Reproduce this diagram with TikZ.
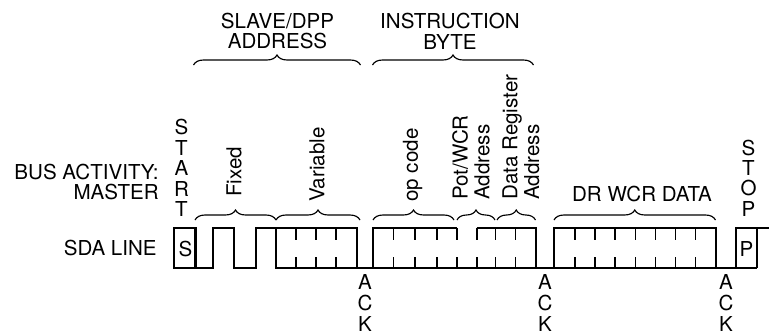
\documentclass[tikz,border=0pt]{standalone}
\usepackage{fontspec}
\setmainfont{TeX Gyre Heros}
\usetikzlibrary{decorations.pathreplacing}

\begin{document}
\begin{tikzpicture}[
  x=0.02cm, y=-0.02cm,
  every node/.style={font=\fontsize{11.7}{11.8}\selectfont, inner sep=0pt},
  wave/.style={
    line width=1.15pt,
    line join=miter
  },
  bittick/.style={
    line width=0.65pt
  },
  grouping/.style={
    decorate,
    decoration={brace, amplitude=0.2cm},
    line width=0.65pt
  },
  fieldname/.style={
    rotate=90,
    anchor=west,
    align=left,
    font=\fontsize{11.7}{12.4}\selectfont
  },
  stack/.style={
    align=center,
    font=\fontsize{11.7}{11.6}\selectfont
  }
]
\useasboundingbox (0,0) rectangle (769,335);

% Row titles
\node[align=right, anchor=east] (busact) at (159,182) {BUS ACTIVITY:\\MASTER};
\node[anchor=east] (sdaline) at (157,248) {SDA LINE};

% Byte headings over the top braces
\node[align=center] (slaveaddr) at (277.5,31) {SLAVE/DPP\\ADDRESS};
\node[align=center] (instrbyte) at (450,31) {INSTRUCTION\\BYTE};
\draw[grouping] (193.5,65) -- (360.5,65);
\draw[grouping] (372.5,65) -- (533.5,65);

% Conditions set by the master
\node[stack] (start) at (181.5,168) {S\\T\\A\\R\\T};
\node[stack] (stop) at (748.5,178) {S\\T\\O\\P};

% Bit fields
\node[fieldname] (fixed) at (234,197) {Fixed};
\node[fieldname] (variable) at (317,202) {Variable};
\node[fieldname] (opcode) at (412.5,202) {op code};
\node[fieldname] (potaddr) at (471,200) {Pot/WCR\\Address};
\node[fieldname] (dataaddr) at (521,200) {Data Register\\Address};
\node (drdata) at (642,194) {DR WCR DATA};
\draw[grouping] (195,220) -- (276,220);
\draw[grouping] (276,220) -- (360,220);
\draw[grouping] (373,220) -- (454,220);
\draw[grouping] (457,220) -- (495,220);
\draw[grouping] (497,220) -- (535.5,220);
\draw[grouping] (554,220) -- (715.5,220);

% SDA waveform
\draw[wave] (174,228) rectangle (195.5,268);
\node (sbit) at (185.5,249) {S};
\draw[wave] (195.5,268) -- (213.3,268) -- (213.3,228) -- (234,228) -- (234,268)
  -- (255.7,268) -- (255.7,228) -- (356.7,228) -- (356.7,268);
\draw[wave] (276,228) -- (276,268) -- (756.7,268);
\draw[wave] (373.3,268) -- (373.3,228) -- (456.7,228);
\draw[wave] (476.7,228) -- (535.7,228) -- (535.7,268);
\draw[wave] (554,268) rectangle (715.7,228);
\draw[wave] (736,268) -- (736,228) -- (769,228);
\draw[wave] (756.7,228) -- (756.7,268);
\node (pbit) at (746.5,249) {P};

% bit boundaries
\foreach \x in {296,316,336,393.5,415,437,457,477,495.5,515.5,575,595,615,635.5,655.5,675.5,695.5}
  \draw[bittick] (\x,228) -- (\x,240) (\x,268) -- (\x,257);

% Acknowledge slots
\node[stack, font=\fontsize{11.7}{12}\selectfont] (ackA) at (365,303) {A\\C\\K};
\node[stack, font=\fontsize{11.7}{12}\selectfont] (ackB) at (545,303) {A\\C\\K};
\node[stack, font=\fontsize{11.7}{12}\selectfont] (ackC) at (726,303) {A\\C\\K};
\end{tikzpicture}
\end{document}
